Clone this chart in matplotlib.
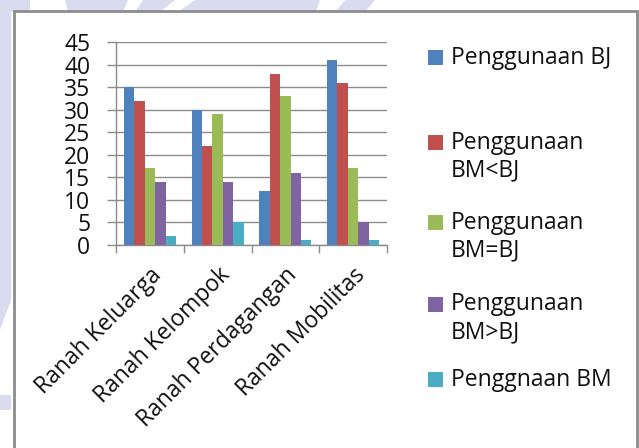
import matplotlib.pyplot as plt
from matplotlib.patches import Rectangle, Polygon
import numpy as np

plt.rcParams['font.family'] = ['Open Sans', 'DejaVu Sans']

categories = ["Ranah Keluarga", "Ranah Kelompok", "Ranah Perdagangan", "Ranah Mobilitas"]
series_names = ["Penggunaan BJ", "Penggunaan\nBM<BJ", "Penggunaan\nBM=BJ",
                "Penggunaan\nBM>BJ", "Penggnaan BM"]
penggunaan_bj = [35, 30, 12, 41]
penggunaan_bm_lt_bj = [32, 22, 38, 36]
penggunaan_bm_eq_bj = [17, 29, 33, 17]
penggunaan_bm_gt_bj = [14, 14, 16, 5]
penggnaan_bm = [2, 5, 1, 1]
y_ticks = [0, 5, 10, 15, 20, 25, 30, 35, 40, 45]

series = [penggunaan_bj, penggunaan_bm_lt_bj, penggunaan_bm_eq_bj,
          penggunaan_bm_gt_bj, penggnaan_bm]
colors = ["#4F81BD", "#C0504D", "#9BBB59", "#8064A2", "#4BACC6"]

W, H = 639, 448
fig = plt.figure(figsize=(W / 100, H / 100), dpi=100)
fig.patch.set_facecolor("white")

def px(x, y):
    return (x / W, 1 - y / H)

# faint background shapes behind the chart frame
lav = "#D9DCEF"
shapes = [
    [(0, 0), (30, 0), (30, 12), (0, 12)],
    [(0, 0), (11, 0), (11, 300), (0, 330)],
    [(65, 0), (128, 0), (123, 12), (68, 12)],
    [(143, 0), (175, 0), (160, 12), (135, 12)],
    [(195, 0), (320, 0), (316, 12), (178, 12)],
    [(345, 0), (375, 0), (365, 12), (335, 12)],
    [(0, 395), (11, 395), (11, 410), (0, 410)],
]
for s in shapes:
    fig.patches.append(Polygon([px(*p) for p in s], closed=True,
                               transform=fig.transFigure, facecolor=lav,
                               edgecolor="none", zorder=0))

# chart frame
x0, y0 = px(14, 460)
x1, y1 = px(637, 11)
fig.patches.append(Rectangle((x0, y0), x1 - x0, y1 - y0, transform=fig.transFigure,
                             facecolor="white", edgecolor="#8C8C8C", linewidth=2,
                             zorder=1))

ax = fig.add_axes([116 / W, 1 - 245 / H, (387 - 116) / W, (245 - 42) / H])
ax.set_facecolor("none")
ax.set_zorder(2)

n = len(series)
bw = 0.154
x = np.arange(len(categories))
for i, (vals, c) in enumerate(zip(series, colors)):
    ax.bar(x + (i - (n - 1) / 2) * bw, vals, width=bw, color=c, zorder=3)

fs = 16.5
ax.set_xlim(-0.5, len(categories) - 0.5)
ax.set_ylim(0, 45)
ax.set_yticks(y_ticks)
ax.set_yticklabels([str(v) for v in y_ticks], fontsize=fs, color="#111111")
ax.yaxis.grid(True, color="#8C8C8C", linewidth=1, zorder=0)
ax.tick_params(axis="y", length=6.5, width=1, color="#8C8C8C", pad=12)

ax.set_xticks(np.arange(len(categories) + 1) - 0.5, minor=False)
ax.set_xticklabels([""] * (len(categories) + 1))
ax.tick_params(axis="x", which="major", length=6, width=1, color="#8C8C8C", direction="out")
ax.set_xticks(x, minor=True)
ax.set_xticklabels(categories, minor=True, rotation=45, ha="right",
                   rotation_mode="anchor", fontsize=fs, color="#111111")
ax.tick_params(axis="x", which="minor", length=0, pad=13)

for side in ["top", "right"]:
    ax.spines[side].set_visible(False)
for side in ["left", "bottom"]:
    ax.spines[side].set_color("#8C8C8C")
    ax.spines[side].set_linewidth(1)

# legend
legend_rows = [57.5, 142.5, 222.5, 304.5, 379.5]
for name, c, yc in zip(series_names, colors, legend_rows):
    sx, sy = px(428, yc + 7.5)
    fig.patches.append(Rectangle((sx, sy), 15 / W, 15 / H, transform=fig.transFigure,
                                 facecolor=c, edgecolor="none", zorder=3))
    lines = name.split("\n")
    for k, line in enumerate(lines):
        tx, ty = px(451, yc + k * 28)
        fig.text(tx, ty, line, fontsize=fs, color="#111111", va="center",
                 ha="left", zorder=4)

fig.savefig("out.png", dpi=100)
